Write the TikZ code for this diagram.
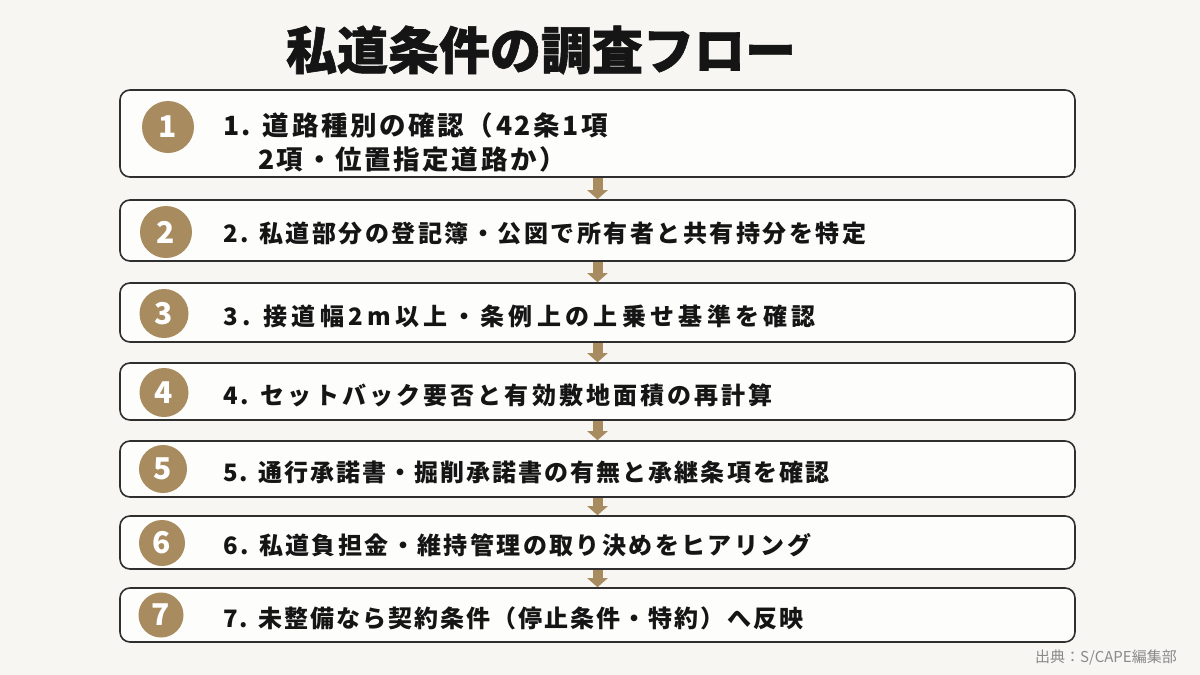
\documentclass[tikz,border=0pt]{standalone}
\usepackage{fontspec}
\setmainfont{Noto Sans CJK JP}
\newfontfamily\jp{Noto Sans CJK JP}
\newfontfamily\jptitle{Noto Sans CJK JP}[BoldFeatures={FakeBold=1.2}]
\usetikzlibrary{arrows.meta}
\definecolor{bg}{HTML}{F7F6F3}
\definecolor{gold}{HTML}{A88B5E}
\definecolor{boxline}{HTML}{2F2F2F}
\definecolor{boxfill}{HTML}{FDFDFC}
\definecolor{ink}{HTML}{151515}
\definecolor{foot}{HTML}{8A8A8A}
\tikzset{
  stepbox/.style={draw=boxline, line width=1.6pt, fill=boxfill, rounded corners=10pt,
    minimum width=955pt, inner sep=0pt},
  numcirc/.style={circle, fill=gold, text=white, inner sep=0pt,
    font=\jp\bfseries\fontsize{30}{30}\selectfont},
  steptext/.style={anchor=west, inner sep=0pt, text=ink},
  flowarrow/.style={draw=gold, line width=10pt, -{Triangle[width=20pt,length=9pt]}},
}
\newcommand{\stxt}[2]{\jp\bfseries\fontsize{#1}{#1}\selectfont\addfontfeatures{LetterSpace=#2}}
\begin{document}
\begin{tikzpicture}[x=1pt,y=-1pt]
\fill[bg] (0,0) rectangle (1200,675);
\useasboundingbox (0,0) rectangle (1200,675);

% title
\node[inner sep=0pt, text=ink, font=\jptitle\bfseries\fontsize{51}{51}\selectfont] (title) at (541,50) {私道条件の調査フロー};

% boxes
\node[stepbox, minimum height=87pt] (b1) at (597.5,133.5) {};
\node[stepbox, minimum height=61pt] (b2) at (597.5,230.5) {};
\node[stepbox, minimum height=59pt] (b3) at (597.5,312.5) {};
\node[stepbox, minimum height=57pt] (b4) at (597.5,391.5) {};
\node[stepbox, minimum height=56pt] (b5) at (597.5,469) {};
\node[stepbox, minimum height=53pt] (b6) at (597.5,542.5) {};
\node[stepbox, minimum height=54pt] (b7) at (597.5,615) {};

% arrows
\draw[flowarrow] (b1.south) -- (b2.north);
\draw[flowarrow] (b2.south) -- (b3.north);
\draw[flowarrow] (b3.south) -- (b4.north);
\draw[flowarrow] (b4.south) -- (b5.north);
\draw[flowarrow] (b5.south) -- (b6.north);
\draw[flowarrow] (b6.south) -- (b7.north);

% number circles
\node[numcirc, minimum size=52pt] (c1) at (168,127) {1};
\node[numcirc, minimum size=52pt] (c2) at (166,232) {2};
\node[numcirc, minimum size=49pt] (c3) at (164,313.5) {3};
\node[numcirc, minimum size=49pt] (c4) at (164,392.5) {4};
\node[numcirc, minimum size=48pt] (c5) at (163,469) {5};
\node[numcirc, minimum size=46pt] (c6) at (162,543) {6};
\node[numcirc, minimum size=45pt] (c7) at (161,615) {7};

% texts
\node[steptext, font=\stxt{26.5}{10}] (t1a) at (223,125.5) {1. 道路種別の確認（42条1項};
\node[steptext, font=\stxt{26.5}{10}] (t1b) at (258,159) {2項・位置指定道路か）};
\node[steptext, font=\stxt{24}{10.4}] (t2) at (223,233) {2. 私道部分の登記簿・公図で所有者と共有持分を特定};
\node[steptext, font=\stxt{24}{18}] (t3) at (223,316) {3. 接道幅2m以上・条例上の上乗せ基準を確認};
\node[steptext, font=\stxt{24}{13}] (t4) at (223,395) {4. セットバック要否と有効敷地面積の再計算};
\node[steptext, font=\stxt{24}{8.5}] (t5) at (223,472) {5. 通行承諾書・掘削承諾書の有無と承継条項を確認};
\node[steptext, font=\stxt{24}{10}] (t6) at (223,545) {6. 私道負担金・維持管理の取り決めをヒアリング};
\node[steptext, font=\stxt{24}{8.5}] (t7) at (223,618) {7. 未整備なら契約条件（停止条件・特約）へ反映};

% footer
\node[anchor=east, inner sep=0pt, text=foot, font=\jp\fontsize{15}{15}\selectfont] (src) at (1177,658) {出典：S/CAPE編集部};
\end{tikzpicture}
\end{document}
